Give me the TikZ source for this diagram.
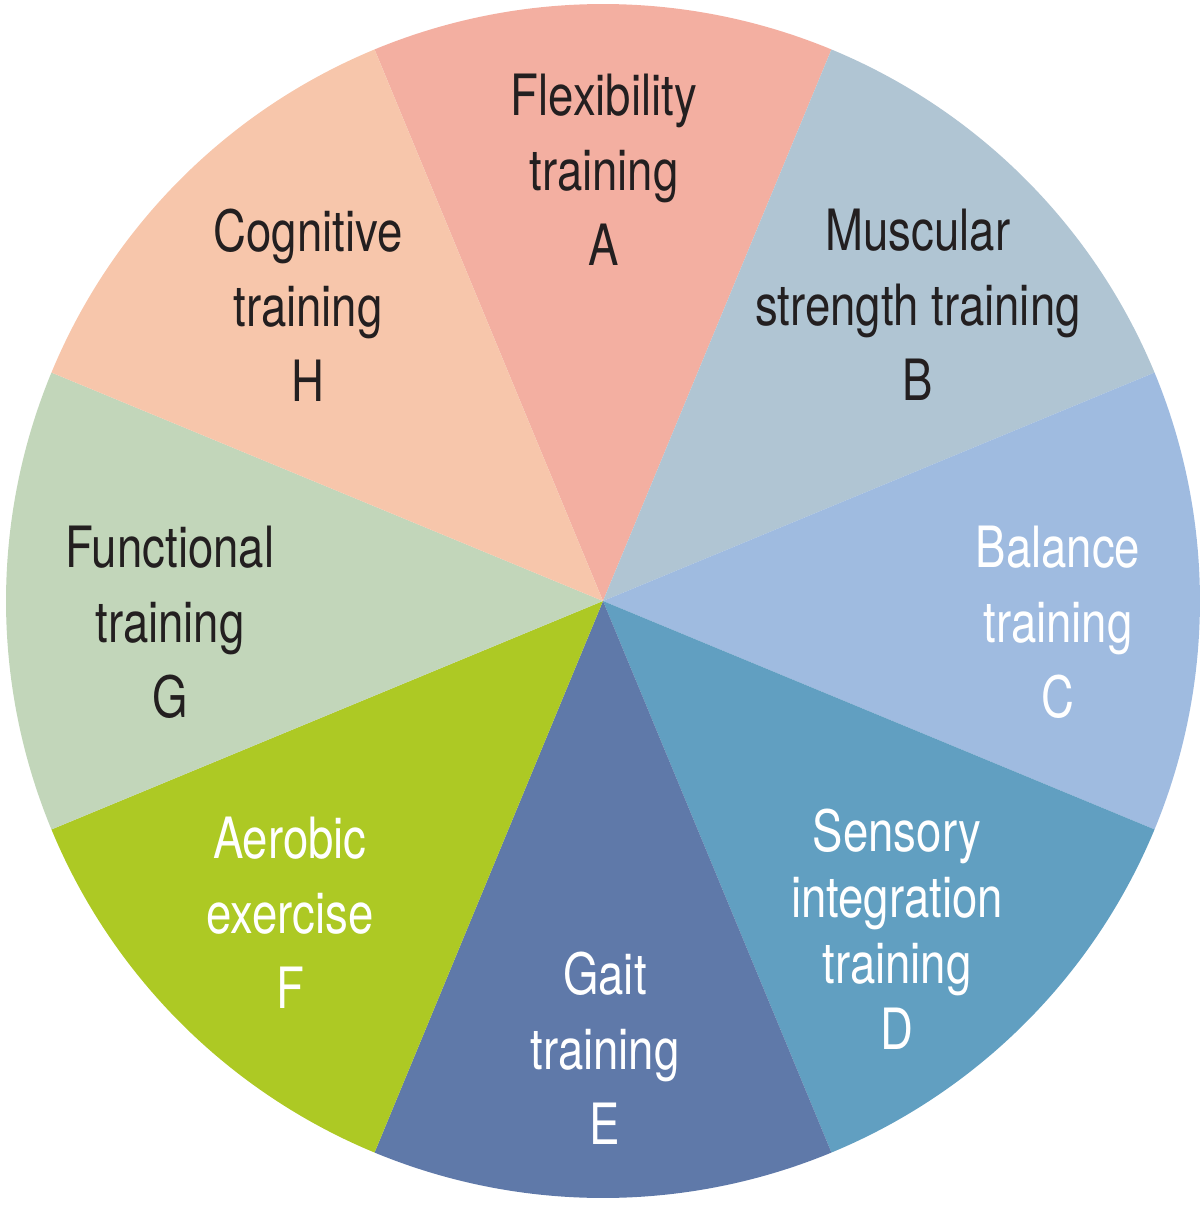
\documentclass[tikz,border=0pt]{standalone}
\usepackage{fontspec}
\setmainfont[FakeStretch=0.8]{TeX Gyre Heros}
\definecolor{secA}{HTML}{F3AFA1}
\definecolor{secB}{HTML}{B0C5D3}
\definecolor{secC}{HTML}{9FBBE0}
\definecolor{secD}{HTML}{619FC1}
\definecolor{secE}{HTML}{5F79A9}
\definecolor{secF}{HTML}{ADC924}
\definecolor{secG}{HTML}{C2D6BA}
\definecolor{secH}{HTML}{F7C6AB}
\definecolor{ink}{HTML}{231F20}
\tikzset{
  label/.style={align=center, text=ink, font=\fontsize{16.2}{21.4}\selectfont},
  whitelabel/.style={label, text=white}
}
\begin{document}
\begin{tikzpicture}
        \useasboundingbox (-6.03,-6.05) rectangle (5.97,6.01);
        \fill[secA] (0,0) -- (67.5:5.97) arc[start angle=67.5, end angle=112.5, radius=5.97] -- cycle;
        \fill[secB] (0,0) -- (22.5:5.97) arc[start angle=22.5, end angle=67.5, radius=5.97] -- cycle;
        \fill[secC] (0,0) -- (-22.5:5.97) arc[start angle=-22.5, end angle=22.5, radius=5.97] -- cycle;
        \fill[secD] (0,0) -- (-67.5:5.97) arc[start angle=-67.5, end angle=-22.5, radius=5.97] -- cycle;
        \fill[secE] (0,0) -- (-112.5:5.97) arc[start angle=-112.5, end angle=-67.5, radius=5.97] -- cycle;
        \fill[secF] (0,0) -- (-157.5:5.97) arc[start angle=-157.5, end angle=-112.5, radius=5.97] -- cycle;
        \fill[secG] (0,0) -- (157.5:5.97) arc[start angle=157.5, end angle=202.5, radius=5.97] -- cycle;
        \fill[secH] (0,0) -- (112.5:5.97) arc[start angle=112.5, end angle=157.5, radius=5.97] -- cycle;
        \node[label] (A) at (0.01, 4.31) {Flexibility\\training\\A};
        \node[label] (B) at (3.15, 2.96) {Muscular\\strength training\\B};
        \node[whitelabel] (C) at (4.55, -0.21) {Balance\\training\\C};
        \node[whitelabel, font=\fontsize{16.2}{18.8}\selectfont] (D) at (2.94, -3.28) {Sensory\\integration\\training\\D};
        \node[whitelabel] (E) at (0.02, -4.47) {Gait\\training\\E};
        \node[whitelabel] (F) at (-3.13, -3.12) {Aerobic\\exercise\\F};
        \node[label] (G) at (-4.33, -0.21) {Functional\\training\\G};
        \node[label] (H) at (-2.95, 2.96) {Cognitive\\training\\H};
    \end{tikzpicture}
\end{document}
